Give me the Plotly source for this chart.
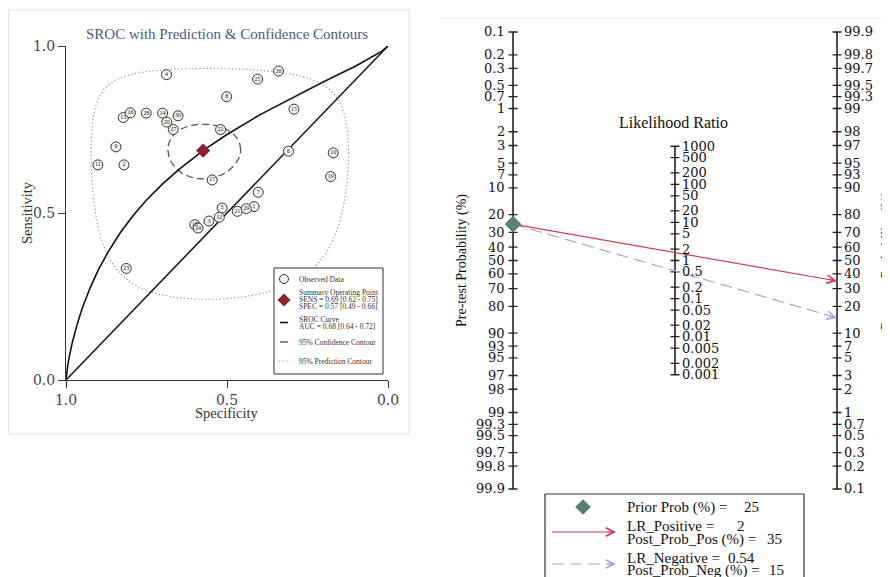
import numpy as np
import plotly.graph_objects as go

W, H = 890, 577          # browser window
OFF = 8                  # default page body margin
FW, FH = W - OFF, H - OFF
SERIF = "Liberation Serif, Times New Roman, serif"
WSERIF = "DejaVu Serif, serif"

# ---------------- SROC panel data ----------------
study_id = list(range(1, 31))
study_spec = [0.416, 0.820, 0.556, 0.688, 0.515, 0.309, 0.403, 0.501, 0.845, 0.170,
              0.901, 0.524, 0.822, 0.700, 0.292, 0.800, 0.546, 0.600, 0.178, 0.687,
              0.468, 0.520, 0.813, 0.590, 0.405, 0.340, 0.667, 0.751, 0.440, 0.652]
study_sens = [0.519, 0.644, 0.476, 0.914, 0.515, 0.685, 0.562, 0.848, 0.698, 0.680,
              0.644, 0.487, 0.786, 0.799, 0.811, 0.800, 0.599, 0.465, 0.609, 0.772,
              0.505, 0.750, 0.334, 0.455, 0.901, 0.925, 0.750, 0.799, 0.513, 0.791]
summary_spec = 0.574
summary_sens = 0.687
sroc_fpr = [0, 0.002, 0.005, 0.01, 0.02, 0.035, 0.05, 0.075, 0.1, 0.13, 0.17, 0.21,
            0.25, 0.3, 0.35, 0.43, 0.5, 0.6, 0.7, 0.8, 0.9, 0.95, 0.98, 1.0]
sroc_sens = [0, 0.020, 0.041, 0.069, 0.114, 0.168, 0.214, 0.276, 0.329, 0.382, 0.443, 0.494,
             0.539, 0.587, 0.630, 0.690, 0.735, 0.793, 0.844, 0.893, 0.940, 0.966, 0.984, 1.0]
chance_spec = [1.0, 0.0]
chance_sens = [0.0, 1.0]
# contours: ellipses in logit(FPR) / logit(sens) space
conf_contour = dict(u=-0.30, v=0.80, ru=0.47, rv=0.386)
pred_contour = dict(u=-0.2525, v=0.745, ru=2.2245, rv=1.89)
sroc_ticks = [1.0, 0.5, 0.0]
sroc_ticktext = ["1.0", "0.5", "0.0"]

# ---------------- Fagan nomogram data ----------------
pre_ticks = [0.1, 0.2, 0.3, 0.5, 0.7, 1, 2, 3, 5, 7, 10, 20, 30, 40, 50, 60, 70, 80, 90,
             93, 95, 97, 98, 99, 99.3, 99.5, 99.7, 99.8, 99.9]
post_ticks = [99.9, 99.8, 99.7, 99.5, 99.3, 99, 98, 97, 95, 93, 90, 80, 70, 60, 50, 40, 30,
              20, 10, 7, 5, 3, 2, 1, 0.7, 0.5, 0.3, 0.2, 0.1]
lr_ticks = [1000, 500, 200, 100, 50, 20, 10, 5, 2, 1, 0.5, 0.2, 0.1, 0.05, 0.02, 0.01,
            0.005, 0.002, 0.001]
prior_prob = 25
lr_positive = 2
post_prob_pos = 35
lr_negative = 0.54
post_prob_neg = 15

# ---------------- layout geometry (page pixels) ----------------
SX0, SX1 = 66, 388      # specificity 1 -> 0
SY0, SY1 = 380, 46      # sensitivity 0 -> 1
NXL, NXR = 513, 837     # nomogram left / right axes
NYT, NYB = 32, 489      # nomogram top / bottom
DOT = "1.2px,2.4px"


def dx_(p):
    return (p - OFF) / FW


def dy_(p):
    return 1 - (p - OFF) / FH


def logit(p):
    p = np.asarray(p, dtype=float)
    return np.log(p / (1 - p))


def contour_xy(c, n=300):
    t = np.linspace(0, 2 * np.pi, n)
    u = c["u"] + c["ru"] * np.cos(t)
    v = c["v"] + c["rv"] * np.sin(t)
    fpr = 1 / (1 + np.exp(-u))
    sens = 1 / (1 + np.exp(-v))
    return 1 - fpr, sens


L = float(logit(0.999))
kx = NXR - NXL
ky = (NYB - NYT) / (2 * L)
cy = (NYT + NYB) / 2
XR = [-0.12, 1.12]
YR = [-L - 0.6, L + 0.6]
x2dom = [dx_(NXL + kx * XR[0]), dx_(NXL + kx * XR[1])]
y2dom = [dy_(cy - ky * YR[0]), dy_(cy - ky * YR[1])]

fig = go.Figure()

# ---------- SROC ----------
px_, py_ = contour_xy(pred_contour)
fig.add_trace(go.Scatter(x=px_, y=py_, mode="lines", line=dict(color="#8c8c8c", width=1.1, dash=DOT),
                         xaxis="x", yaxis="y", hoverinfo="skip"))
cx_, cy_ = contour_xy(conf_contour)
fig.add_trace(go.Scatter(x=cx_, y=cy_, mode="lines", line=dict(color="#555", width=1.3, dash="7px,4px"),
                         xaxis="x", yaxis="y", hoverinfo="skip"))
fig.add_trace(go.Scatter(x=chance_spec, y=chance_sens, mode="lines", line=dict(color="#111", width=1.5),
                         xaxis="x", yaxis="y"))
fig.add_trace(go.Scatter(x=[1 - f for f in sroc_fpr], y=sroc_sens, mode="lines",
                         line=dict(color="#111", width=1.6), xaxis="x", yaxis="y"))
fig.add_trace(go.Scatter(x=study_spec, y=study_sens, mode="markers+text",
                         text=[str(i) for i in study_id], textposition="middle center",
                         textfont=dict(size=6, color="#222", family=SERIF),
                         marker=dict(symbol="circle", size=10, color="#f3f3f3",
                                     line=dict(color="#333", width=1)),
                         xaxis="x", yaxis="y"))
fig.add_trace(go.Scatter(x=[summary_spec], y=[summary_sens], mode="markers",
                         marker=dict(symbol="diamond", size=11, color="#8e1f2f"),
                         xaxis="x", yaxis="y"))

# ---------- Nomogram ----------
lr_y = [float(np.log(v) / 2) for v in lr_ticks]
pre_y = [float(-logit(v / 100)) for v in pre_ticks]
post_y = [float(logit(v / 100)) for v in post_ticks]
for xa, ys in [(0.0, [-L, L]), (1.0, [-L, L]), (0.5, [min(lr_y), max(lr_y)])]:
    fig.add_trace(go.Scatter(x=[xa, xa], y=ys, mode="lines", line=dict(color="#222", width=1.6),
                             xaxis="x2", yaxis="y2"))
tdx = 4.5 / kx
tx, ty = [], []
for xa, ys in [(0.0, pre_y), (1.0, post_y), (0.5, lr_y)]:
    for yv in ys:
        tx += [xa - tdx, xa + tdx, None]
        ty += [yv, yv, None]
fig.add_trace(go.Scatter(x=tx, y=ty, mode="lines", line=dict(color="#222", width=1.3),
                         xaxis="x2", yaxis="y2"))

prior_Y = float(-logit(prior_prob / 100))
pos_Y = float(logit(post_prob_pos / 100))
neg_Y = float(logit(post_prob_neg / 100))
fig.add_trace(go.Scatter(x=[0, 1], y=[prior_Y, neg_Y], mode="lines",
                         line=dict(color="#a4a4e4", width=1.2, dash="12px,6px"), xaxis="x2", yaxis="y2"))
fig.add_trace(go.Scatter(x=[0, 1], y=[prior_Y, pos_Y], mode="lines",
                         line=dict(color="#d03a5e", width=1.2), xaxis="x2", yaxis="y2"))
fig.add_trace(go.Scatter(x=[0], y=[prior_Y], mode="markers",
                         marker=dict(symbol="diamond", size=13, color="#5b8070"),
                         xaxis="x2", yaxis="y2", cliponaxis=False))


# ---------- overlay (page pixel coordinates) ----------
def ov_line(xs, ys, color, width=1, dash="solid"):
    fig.add_trace(go.Scatter(x=xs, y=ys, mode="lines", line=dict(color=color, width=width, dash=dash),
                             xaxis="x3", yaxis="y3", hoverinfo="skip"))


ov_line([8.5, 409, 409, 8.5, 8.5], [10, 10, 434, 434, 10], "#e4e4e4", 1)
ov_line([440, 890], [18, 18], "#eeeeee", 1)
fig.add_trace(go.Scatter(x=[274, 383, 383, 274, 274], y=[268, 268, 374, 374, 268], mode="lines",
                         fill="toself", fillcolor="white", line=dict(color="#333", width=1),
                         xaxis="x3", yaxis="y3"))
fig.add_trace(go.Scatter(x=[284], y=[279], mode="markers",
                         marker=dict(symbol="circle", size=9, color="#f3f3f3", line=dict(color="#333", width=1)),
                         xaxis="x3", yaxis="y3"))
fig.add_trace(go.Scatter(x=[284], y=[300], mode="markers",
                         marker=dict(symbol="diamond", size=10, color="#8e1f2f"), xaxis="x3", yaxis="y3"))
ov_line([280, 288], [322.5, 322.5], "#111", 1.6)
ov_line([280, 288], [342, 342], "#555", 1.4)
ov_line([279, 290], [361, 361], "#8c8c8c", 1.1, DOT)
ov_line([545, 804, 804, 545, 545], [494, 494, 600, 600, 494], "#333", 1.2)
fig.add_trace(go.Scatter(x=[583], y=[507], mode="markers",
                         marker=dict(symbol="diamond", size=12, color="#5b8070"), xaxis="x3", yaxis="y3"))
ov_line([552, 612], [532, 532], "#d03a5e", 1.2)
ov_line([552, 612], [564, 564], "#a4a4e4", 1.2, "12px,6px")

annotations = []


def txt(x, y, s, size, color="#111", xanchor="left", angle=0, family=SERIF):
    annotations.append(dict(x=x, y=y, xref="x3", yref="y3", text=s, showarrow=False,
                            xanchor=xanchor, yanchor="middle", textangle=angle,
                            font=dict(family=family, size=size, color=color)))


txt(227, 34, "SROC with Prediction &amp; Confidence Contours", 15, "#4a5886", "center")
txt(27, 213, "Sensitivity", 14.5, "#333", "center", -90)
txt(227, 413, "Specificity", 14.5, "#333", "center")
leg_lines = [(279, "Observed Data"), (292, "Summary Operating Point"),
             (299.3, "SENS = 0.69 [0.62 - 0.75]"), (306.6, "SPEC = 0.57 [0.49 - 0.66]"),
             (319.3, "SROC Curve"), (326.7, "AUC = 0.68 [0.64 - 0.72]"),
             (342, "95% Confidence Contour"), (361, "95% Prediction Contour")]
for yy, s in leg_lines:
    txt(297, yy, s, 7.5, "#333")

for yv, v in zip(pre_y, pre_ticks):
    annotations.append(dict(x=0, y=yv, xref="x2", yref="y2", text=f"{v:g}", showarrow=False,
                            xanchor="right", yanchor="middle", xshift=-6,
                            font=dict(family=WSERIF, size=13, color="#111")))
for yv, v in zip(post_y, post_ticks):
    annotations.append(dict(x=1, y=yv, xref="x2", yref="y2", text=f"{v:g}", showarrow=False,
                            xanchor="left", yanchor="middle", xshift=5,
                            font=dict(family=WSERIF, size=13, color="#111")))
for yv, v in zip(lr_y, lr_ticks):
    annotations.append(dict(x=0.5, y=yv, xref="x2", yref="y2", text=f"{v:g}", showarrow=False,
                            xanchor="left", yanchor="middle", xshift=5,
                            font=dict(family=WSERIF, size=13, color="#111")))
txt(673, 122, "Likelihood Ratio", 16, "#111", "center")
txt(462, 261, "Pre-test Probability (%)", 14, "#111", "center", -90)
txt(887, 261, "Post-test Probability (%)", 14, "#111", "center", -90)

txt(625, 507, "Prior Prob (%) =", 15)
txt(742, 507, f"{prior_prob}", 15)
txt(625, 526, "LR_Positive =", 15)
txt(735, 526, f"{lr_positive}", 15)
txt(625, 539, "Post_Prob_Pos (%) =", 15)
txt(765, 539, f"{post_prob_pos}", 15)
txt(625, 558, "LR_Negative =", 15)
txt(726, 558, f"{lr_negative}", 15)
txt(625, 570, "Post_Prob_Neg (%) =", 15)
txt(767, 570, f"{post_prob_neg}", 15)


def arrow(xh, yh, xt, yt, color, ref):
    annotations.append(dict(x=xh, y=yh, ax=xt, ay=yt, xref="x" + ref, yref="y" + ref,
                            axref="x" + ref, ayref="y" + ref, showarrow=True, text="",
                            arrowhead=5, arrowsize=1.5, arrowwidth=1.1, arrowcolor=color, standoff=0))


arrow(1, pos_Y, 0.97, prior_Y + (pos_Y - prior_Y) * 0.97, "#d03a5e", "2")
arrow(1, neg_Y, 0.97, prior_Y + (neg_Y - prior_Y) * 0.97, "#a4a4e4", "2")
arrow(616, 532, 606, 532, "#d03a5e", "3")
arrow(616, 564, 606, 564, "#a4a4e4", "3")

axis_common = dict(showgrid=False, zeroline=False, showline=True, linecolor="#333", linewidth=1,
                   ticks="outside", ticklen=7, tickcolor="#333", tickwidth=1, automargin=False,
                   tickfont=dict(family=WSERIF, size=14, color="#444"),
                   tickvals=sroc_ticks, ticktext=sroc_ticktext)
hidden = dict(visible=False, automargin=False)

fig.update_layout(
    width=FW, height=FH, margin=dict(l=0, r=0, t=0, b=0, pad=0, autoexpand=False), autosize=False,
    paper_bgcolor="white", plot_bgcolor="rgba(0,0,0,0)", showlegend=False,
    xaxis=dict(domain=[dx_(SX0), dx_(SX1)], range=[1, 0], anchor="y", **axis_common),
    yaxis=dict(domain=[dy_(SY0), dy_(SY1)], range=[0, 1], anchor="x", **axis_common),
    xaxis2=dict(domain=x2dom, range=XR, anchor="y2", **hidden),
    yaxis2=dict(domain=y2dom, range=YR, anchor="x2", **hidden),
    xaxis3=dict(domain=[0, 1], range=[OFF, OFF + FW], anchor="y3", **hidden),
    yaxis3=dict(domain=[0, 1], range=[OFF + FH, OFF], anchor="x3", **hidden),
    annotations=annotations,
)

fig.write_html("out.html")
